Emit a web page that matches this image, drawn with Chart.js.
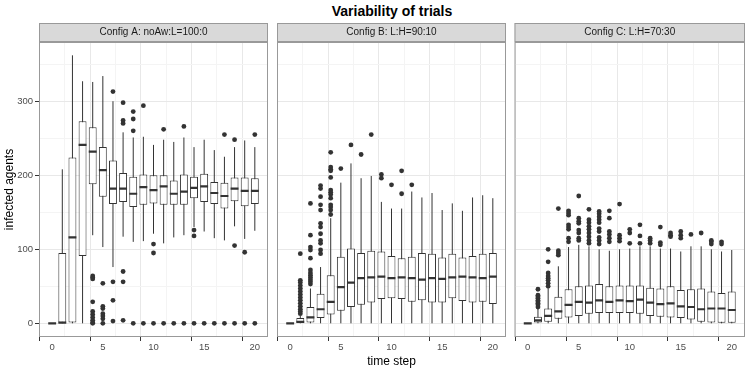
<!DOCTYPE html>
<html>
<head>
<meta charset="utf-8">
<script src="https://cdn.jsdelivr.net/npm/chart.js@4.4.1/dist/chart.umd.min.js"></script>
<style>
  body { margin: 0; background: #fff; width: 750px; height: 369px; position: relative; overflow: hidden; font-family: "Liberation Sans", Arial, sans-serif; }
  canvas { position: absolute; top: 0; }
  #title { position: absolute; left: 39px; width: 706px; top: 3px; text-align: center; font-weight: bold; font-size: 14px; color: #000; }
</style>
</head>
<body>
<div id="title">Variability of trials</div>
<canvas id="chartA" width="272" height="369" style="left:0px"></canvas>
<canvas id="chartB" width="238" height="369" style="left:272px"></canvas>
<canvas id="chartC" width="240" height="369" style="left:510px"></canvas>
<script>
// time steps and axis ticks
const steps = [0,1,2,3,4,5,6,7,8,9,10,11,12,13,14,15,16,17,18,19,20];
const xTicks = [0,5,10,15,20];
const xGrid = [0,2.5,5,7.5,10,12.5,15,17.5,20];
const yTicks = [0,100,200,300];
const yGrid = [0,50,100,150,200,250,300,350];

// Config A: noAw:L=100:0
const aLo  = [0,0,0,0,119,103,76,117,110,111,121,108,116,119,130,124,115,112,131,114,125];
const aQ1  = [0,0,1,91,188,171,161,164,157,160,162,160,160,160,169,164,161,155,165,158,161];
const aMed = [0,1,116,241,232,207,182,182,175,184,180,185,175,178,183,185,176,172,182,179,179];
const aQ3  = [0,95,224,273,265,238,220,203,198,201,200,200,193,201,198,202,191,190,197,197,196];
const aHi  = [0,208,362,327,326,334,300,258,251,252,241,248,245,251,238,248,234,225,238,247,238];
const aOut = [[],[],[],[],
  [64,62,60,29,16,12,8,4,1,0],
  [54,23,20,13,10,6,0],
  [313,56,31,3],
  [298,274,270,70,56,4],
  [286,276,260,0],
  [294,0],
  [107,95,0],
  [262,0],
  [0],
  [266,0],
  [126,118,0],
  [0],
  [0],
  [255,0],
  [248,105,0],
  [96,0],
  [255,0]];

// Config B: L:H=90:10
const bLo  = [0,0,0,0,0,0,0,0,0,0,0,0,0,0,0,0,0,0,0,0,0];
const bQ1  = [0,0,1,7,12,17,22,25,28,33,34,33,29,31,28,28,34,30,28,29,26];
const bMed = [0,2,8,19,29,49,55,61,62,63,61,62,61,59,61,60,62,63,62,61,63];
const bQ3  = [0,7,22,40,65,90,101,95,98,97,91,88,90,95,94,89,94,89,91,94,95];
const bHi  = [0,10,47,76,142,190,216,196,199,164,155,155,178,170,176,153,162,152,170,173,169];
const bOut = [[],
  [94,58,55,51,47,43,39,35,31,27,23,19,16,13],
  [162,119,103,99,88,72,68,65,62,59,56,53],
  [186,182,171,160,153,135,130,121,112,108,99,94],
  [231,211,208,206,197,180,177,174,169,160,157,153,147],
  [209],
  [241],
  [228],
  [255],
  [201,196],
  [187],
  [206,175],
  [187],
  [],[],[],[],[],[],[],[]];

// Config C: L:H=70:30
const cLo  = [0,0,0,0,0,0,0,0,0,0,0,0,0,0,0,0,0,0,0,0,0];
const cQ1  = [0,1,2,6,8,10,13,14,14,14,14,13,10,9,8,7,5,2,1,0,0];
const cMed = [0,4,10,16,25,29,28,31,29,31,30,32,28,26,27,23,22,19,20,20,18];
const cQ3  = [0,9,20,36,46,50,51,53,50,51,51,51,48,47,50,45,46,47,43,41,43];
const cHi  = [0,20,47,77,103,106,104,100,98,100,101,104,104,101,101,97,104,104,100,97,99];
const cOut = [[],
  [46,38,36,34,31,29,27,25,22],
  [100,83,68,64,61,58,54,50],
  [155,98,95,92],
  [152,149,146,133,130,127,115,110],
  [172,142,138,135,126,122,115,112],
  [154,140,136,131,127,122,117,112,108],
  [151,148,144,140,136,128,124,116,112,107],
  [152,142,124,120,115,110],
  [161,119,115,111],
  [127,122,108],
  [133,118,108],
  [115,112,108],
  [130,109,106],
  [122,119,117],
  [124,119,115],
  [120],
  [122],
  [112,110,107],
  [110,107],
  []];

const BOX_W = 0.78;
const INK = '#333333';
const FRAME = '#999999';

Chart.defaults.font.family = '"Liberation Sans", Arial, sans-serif';

const isMajor = (c, list) => !!(c.tick && list.includes(c.tick.value));

// panel border + grey strip with the facet label
const panelFrame = {
  id: 'panelFrame',
  afterDraw(chart, args, opts) {
    const { ctx, chartArea: a } = chart;
    const h = 19;
    ctx.save();
    ctx.fillStyle = '#d9d9d9';
    ctx.fillRect(a.left, a.top - h, a.right - a.left, h);
    ctx.strokeStyle = FRAME;
    ctx.lineWidth = 1;
    ctx.strokeRect(a.left + 0.5, a.top - h + 0.5, a.right - a.left - 1, h - 1);
    ctx.strokeRect(a.left + 0.5, a.top + 0.5, a.right - a.left - 1, a.bottom - a.top - 1);
    ctx.fillStyle = '#1a1a1a';
    ctx.font = '10px "Liberation Sans", Arial, sans-serif';
    ctx.textAlign = 'center';
    ctx.textBaseline = 'middle';
    ctx.fillText(opts.label, (a.left + a.right) / 2, a.top - h / 2);
    ctx.restore();
  }
};

function makePanel(id, label, lo, q1, med, q3, hi, out, opt) {
  const whiskers = [], medians = [], boxes = [], dots = [];
  steps.forEach((t, i) => {
    whiskers.push({ x: t, y: lo[i] }, { x: t, y: hi[i] }, { x: t, y: null });
    medians.push({ x: t - BOX_W / 2, y: med[i] }, { x: t + BOX_W / 2, y: med[i] }, { x: t + BOX_W / 2, y: null });
    boxes.push({ x: t, y: [q1[i], q3[i]] });
    out[i].forEach(v => dots.push({ x: t, y: v }));
  });

  return new Chart(document.getElementById(id), {
    type: 'bar',
    data: {
      datasets: [
        { type: 'line', data: medians, order: 0, borderColor: INK, borderWidth: 2.2,
          borderCapStyle: 'butt', pointRadius: 0, spanGaps: false },
        { type: 'scatter', data: dots, order: 1, backgroundColor: INK, borderWidth: 0, pointRadius: 2.4 },
        { type: 'bar', data: boxes, order: 2, backgroundColor: '#ffffff', borderColor: INK, borderWidth: 1,
          borderSkipped: false, barPercentage: 1, categoryPercentage: BOX_W, grouped: false },
        { type: 'line', data: whiskers, order: 3, borderColor: INK, borderWidth: 1,
          pointRadius: 0, spanGaps: false }
      ]
    },
    options: {
      responsive: false,
      animation: false,
      events: [],
      layout: { padding: { top: 42, right: opt.padRight, left: 0, bottom: 0 } },
      plugins: {
        legend: { display: false },
        tooltip: { enabled: false },
        panelFrame: { label: label }
      },
      scales: {
        x: {
          type: 'linear', min: -1.3, max: 21.3, offset: false,
          afterBuildTicks: s => { s.ticks = xGrid.map(v => ({ value: v })); },
          afterFit: s => { s.height = 32; },
          ticks: {
            autoSkip: false, maxRotation: 0, padding: 1, color: '#4d4d4d', font: { size: 9.5 },
            callback: v => xTicks.includes(v) ? String(v) : ''
          },
          grid: {
            color: c => isMajor(c, xTicks) ? '#e8e8e8' : '#f4f4f4',
            tickColor: c => isMajor(c, xTicks) ? INK : 'rgba(0,0,0,0)',
            tickLength: 4
          },
          border: { display: false },
          title: {
            display: opt.xTitle, text: 'time step', color: '#000',
            font: { size: 12 }, padding: { top: 2, bottom: 0 }
          }
        },
        y: {
          type: 'linear', min: -18.5, max: 380,
          afterBuildTicks: s => { s.ticks = yGrid.map(v => ({ value: v })); },
          afterFit: s => { s.width = opt.yWidth; },
          ticks: {
            display: opt.yLabels, padding: 2, color: '#4d4d4d', font: { size: 9.5 },
            callback: v => yTicks.includes(v) ? String(v) : ''
          },
          grid: {
            color: c => isMajor(c, yTicks) ? '#e8e8e8' : '#f4f4f4',
            tickColor: c => isMajor(c, yTicks) ? INK : 'rgba(0,0,0,0)',
            drawTicks: opt.yLabels,
            tickLength: 4
          },
          border: { display: false },
          title: {
            display: opt.yLabels, text: 'infected agents', color: '#000',
            font: { size: 12 }, padding: { top: 2, bottom: 0 }
          }
        }
      }
    },
    plugins: [panelFrame]
  });
}

makePanel('chartA', 'Config A: noAw:L=100:0', aLo, aQ1, aMed, aQ3, aHi, aOut,
  { yWidth: 39, padRight: 2.5, yLabels: true, xTitle: false });
makePanel('chartB', 'Config B: L:H=90:10', bLo, bQ1, bMed, bQ3, bHi, bOut,
  { yWidth: 5, padRight: 3, yLabels: false, xTitle: true });
makePanel('chartC', 'Config C: L:H=70:30', cLo, cQ1, cMed, cQ3, cHi, cOut,
  { yWidth: 4.5, padRight: 5, yLabels: false, xTitle: false });
</script>
</body>
</html>
